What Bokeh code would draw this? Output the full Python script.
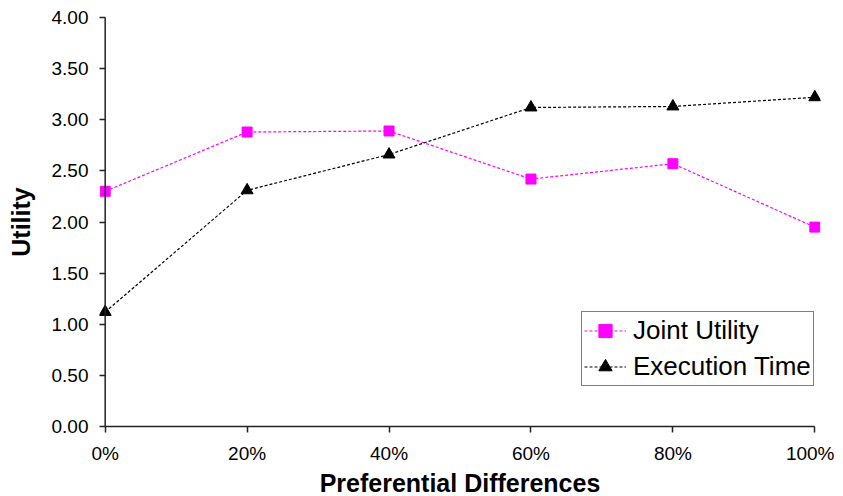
from bokeh.plotting import figure
from bokeh.models import Range1d, FixedTicker, Legend, LegendItem, Span
from bokeh.embed import file_html
from bokeh.resources import INLINE

# ---- data ----
x_values = [0, 20, 40, 60, 80, 100]
x_tick_labels = ["0%", "20%", "40%", "60%", "80%", "100%"]
joint_utility = [2.30, 2.88, 2.89, 2.42, 2.57, 1.95]
execution_time = [1.12, 2.31, 2.66, 3.12, 3.13, 3.22]
y_ticks = [0.0, 0.5, 1.0, 1.5, 2.0, 2.5, 3.0, 3.5, 4.0]
y_tick_labels = ["0.00", "0.50", "1.00", "1.50", "2.00", "2.50", "3.00", "3.50", "4.00"]

FONT = "Liberation Sans"

p = figure(
    frame_width=721, frame_height=409,
    x_range=Range1d(-0.8, 100.8), y_range=Range1d(0, 4),
    output_backend="svg", toolbar_location=None,
    min_border_left=99, min_border_right=14, min_border_top=17, min_border_bottom=62,
    background_fill_color="white", border_fill_color="white",
)
p.outline_line_color = None
p.xgrid.visible = False
p.ygrid.visible = False

# axes
for ax in (p.xaxis[0], p.yaxis[0]):
    ax.axis_line_color = "#222222"
    ax.axis_line_width = 1.5
    ax.major_tick_line_color = "#222222"
    ax.major_tick_line_width = 1.5
    ax.minor_tick_line_color = None
    ax.major_label_text_font = FONT
    ax.major_label_text_font_size = "19px"
    ax.major_label_text_color = "black"
    ax.axis_label_text_font = FONT
    ax.axis_label_text_font_size = "25px"
    ax.axis_label_text_font_style = "bold"
    ax.axis_label_text_color = "black"

xa = p.xaxis[0]
xa.ticker = FixedTicker(ticks=x_values)
xa.major_label_overrides = {v: s for v, s in zip(x_values, x_tick_labels)}
xa.bounds = (x_values[0], x_values[-1])
xa.major_tick_in = 0
xa.major_tick_out = 6
xa.axis_label = "Preferential Differences"
xa.major_label_standoff = 10
xa.axis_label_standoff = 2

ya = p.yaxis[0]
ya.ticker = FixedTicker(ticks=y_ticks)
ya.major_label_overrides = {v: s for v, s in zip(y_ticks, y_tick_labels)}
ya.axis_line_color = None
ya.major_tick_in = 6
ya.major_tick_out = 0
ya.axis_label = "Utility"
ya.major_label_standoff = 11
ya.axis_label_standoff = 14

# y-axis line drawn at x = 0 (markers at the edges stay unclipped)
p.add_layout(Span(location=x_values[0], dimension="height",
                  line_color="#222222", line_width=1.5))

# series
l1 = p.line(x_values, joint_utility, line_color="#FF00FF", line_width=1.2, line_dash="3 2")
m1 = p.scatter(x_values, joint_utility, marker="square", size=10,
               fill_color="#FF00FF", line_color="#FF00FF")
l2 = p.line(x_values, execution_time, line_color="black", line_width=1.2, line_dash="3 2")
m2 = p.scatter(x_values, execution_time, marker="triangle", size=12,
               fill_color="black", line_color="black")

legend = Legend(
    items=[LegendItem(label="Joint Utility", renderers=[l1, m1]),
           LegendItem(label="Execution Time", renderers=[l2, m2])],
    location=(482, 40),
    label_text_font=FONT, label_text_font_size="26px", label_text_color="black",
    glyph_width=42, glyph_height=33, label_height=33, label_standoff=7,
    spacing=3, padding=2, margin=0,
    border_line_color="black", border_line_width=1.2,
    background_fill_color="white", background_fill_alpha=1.0,
)
p.add_layout(legend)

open("out.html", "w").write(file_html(p, INLINE))
